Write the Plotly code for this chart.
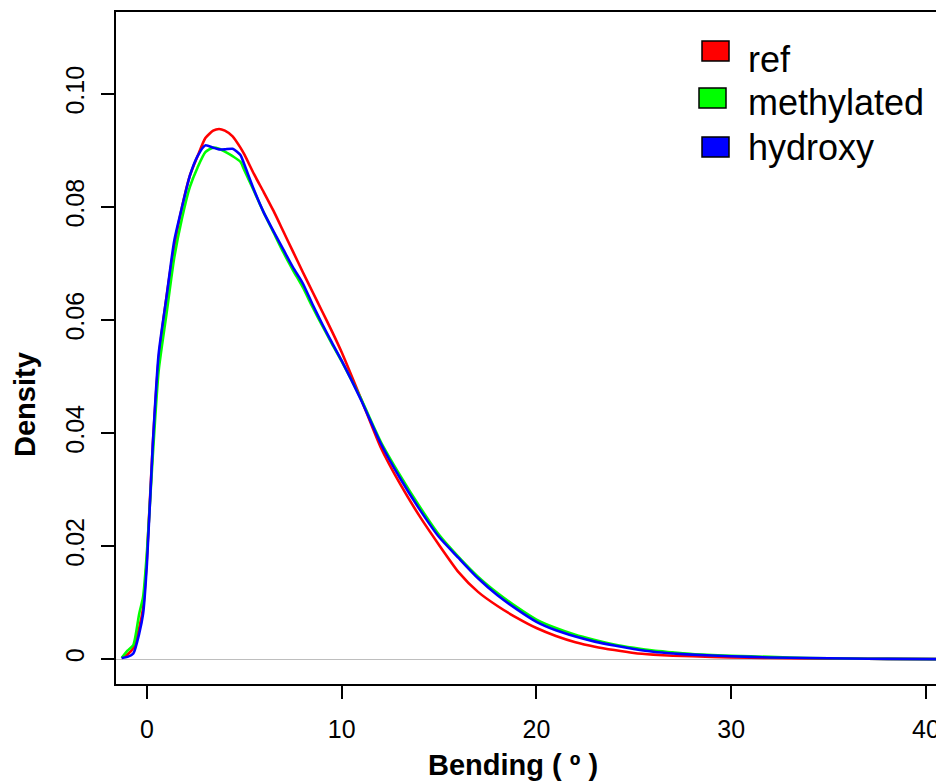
import plotly.graph_objects as go

# ângulo de curvatura (graus) onde as densidades foram lidas
bending = [-1.3, -1.0, -0.7, -0.4, -0.2, 0.0, 0.3, 0.6, 1.0, 1.4, 1.8, 2.2, 2.6,
           3.0, 3.4, 3.7, 4.0, 4.4, 4.8, 5.0, 5.5, 6.0, 6.5, 7.0, 7.5, 8.0, 8.5,
           9.0, 9.5, 10, 11, 12, 13, 14, 15, 16, 17, 18, 19, 20, 21, 22, 23, 24,
           25, 26, 27, 28, 30, 32, 34, 36, 38, 41]

ref = [0.0002, 0.0008, 0.0020, 0.0055, 0.0090, 0.0180, 0.0380, 0.0530, 0.0640,
       0.0730, 0.0800, 0.0855, 0.0890, 0.0922, 0.0935, 0.0938, 0.0935, 0.0925,
       0.0905, 0.0893, 0.0858, 0.0826, 0.0793, 0.0757, 0.0721, 0.0685, 0.0650,
       0.0615, 0.0580, 0.0543, 0.0460, 0.0375, 0.0310, 0.0253, 0.0202, 0.0154,
       0.0119, 0.0094, 0.0073, 0.0055, 0.0041, 0.0030, 0.0022, 0.0016, 0.0011,
       0.0008, 0.0006, 0.0005, 0.0003, 0.0002, 0.0001, 0.0001, 0.00005, 0.0]

methylated = [0.0002, 0.0015, 0.0025, 0.0080, 0.0110, 0.0190, 0.0360, 0.0510,
              0.0610, 0.0710, 0.0780, 0.0835, 0.0870, 0.0897, 0.0905, 0.0903,
              0.0898, 0.0890, 0.0880, 0.0865, 0.0828, 0.0790, 0.0755, 0.0720,
              0.0688, 0.0658, 0.0623, 0.0590, 0.0558, 0.0527, 0.0460, 0.0385,
              0.0325, 0.0270, 0.0220, 0.0181, 0.0146, 0.0117, 0.0092, 0.0070,
              0.0055, 0.0043, 0.0034, 0.0026, 0.0020, 0.0015, 0.0012, 0.0009,
              0.0006, 0.0004, 0.0002, 0.0001, 0.00005, 0.0]

hydroxy = [0.0002, 0.0004, 0.0010, 0.0045, 0.0080, 0.0170, 0.0380, 0.0540,
           0.0640, 0.0740, 0.0800, 0.0855, 0.0890, 0.0909, 0.0905, 0.0902,
           0.0902, 0.0903, 0.0892, 0.0875, 0.0830, 0.0790, 0.0757, 0.0725,
           0.0693, 0.0665, 0.0628, 0.0593, 0.0560, 0.0528, 0.0458, 0.0382,
           0.0320, 0.0265, 0.0216, 0.0179, 0.0143, 0.0113, 0.0088, 0.0066,
           0.0051, 0.0040, 0.0031, 0.0024, 0.0018, 0.0013, 0.0010, 0.0008,
           0.0005, 0.0003, 0.0002, 0.0001, 0.00005, 0.0]

series = [("ref", ref, "#ff0000"),
          ("methylated", methylated, "#00ff00"),
          ("hydroxy", hydroxy, "#0000ff")]

x_ticks = [0, 10, 20, 30, 40]
y_ticks = [0, 0.02, 0.04, 0.06, 0.08, 0.10]
y_labels = ["0", "0.02", "0.04", "0.06", "0.08", "0.10"]

FONT = "Liberation Sans, Arial, sans-serif"

# a página tem margem de 8px no body, então a figura fica 8px menor
W, H = 936, 773
L, T, B = 108, 4, 97
PW, PH = W - L, H - T - B   # área do gráfico (828 x 672)


def px(xp):
    # posição horizontal (pixel da página) -> coordenada paper
    return (xp - 8 - L) / PW


def py(yp):
    # posição vertical (pixel da página) -> coordenada paper
    return (H - B - (yp - 8)) / PH


fig = go.Figure()
for name, vals, cor in series:
    fig.add_trace(go.Scatter(x=bending, y=vals, mode="lines", name=name,
                             line=dict(color=cor, width=2.6, shape="spline",
                                       smoothing=0.6),
                             showlegend=False))

fig.update_layout(
    width=W, height=H,
    margin=dict(l=L, r=0, t=T, b=B),
    paper_bgcolor="white", plot_bgcolor="white",
    font=dict(family=FONT, color="black", size=25),
    xaxis=dict(range=[-1.59, 40.93], tickvals=x_ticks, showgrid=False,
               zeroline=False, showline=True, linecolor="black", linewidth=2,
               mirror=True, ticks="outside", ticklen=13, tickwidth=1.5,
               tickcolor="black", ticklabelstandoff=9),
    yaxis=dict(range=[-0.0044, 0.1145], tickvals=y_ticks, ticktext=y_labels,
               tickangle=-90, showgrid=False, zeroline=True,
               zerolinecolor="#bebebe", zerolinewidth=1, showline=True,
               linecolor="black", linewidth=2, ticks="outside", ticklen=13,
               tickwidth=1.5, tickcolor="black", ticklabelstandoff=7),
)

# títulos dos eixos
fig.add_annotation(text="<b>Bending ( º )</b>", xref="paper", yref="paper",
                   x=px(513), y=py(765), showarrow=False,
                   font=dict(size=29), xanchor="center", yanchor="middle")
fig.add_annotation(text="<b>Density</b>", xref="paper", yref="paper",
                   x=px(25), y=py(405), showarrow=False,
                   textangle=-90, font=dict(size=29), xanchor="center",
                   yanchor="middle")

# legenda manual estilo R (caixas preenchidas)
leg_box_x = [702, 699, 702]
leg_box_y = [41, 88, 137]
leg_txt_y = [60, 103, 148]
for (name, _, cor), bx, by, ty in zip(series, leg_box_x, leg_box_y, leg_txt_y):
    fig.add_shape(type="rect", xref="paper", yref="paper",
                  x0=px(bx), x1=px(bx + 27), y0=py(by), y1=py(by + 20),
                  fillcolor=cor, line=dict(color="black", width=1.5))
    fig.add_annotation(text=name, xref="paper", yref="paper",
                       x=px(746), y=py(ty), showarrow=False,
                       xanchor="left", yanchor="middle", font=dict(size=36))

fig.write_html("out.html")
